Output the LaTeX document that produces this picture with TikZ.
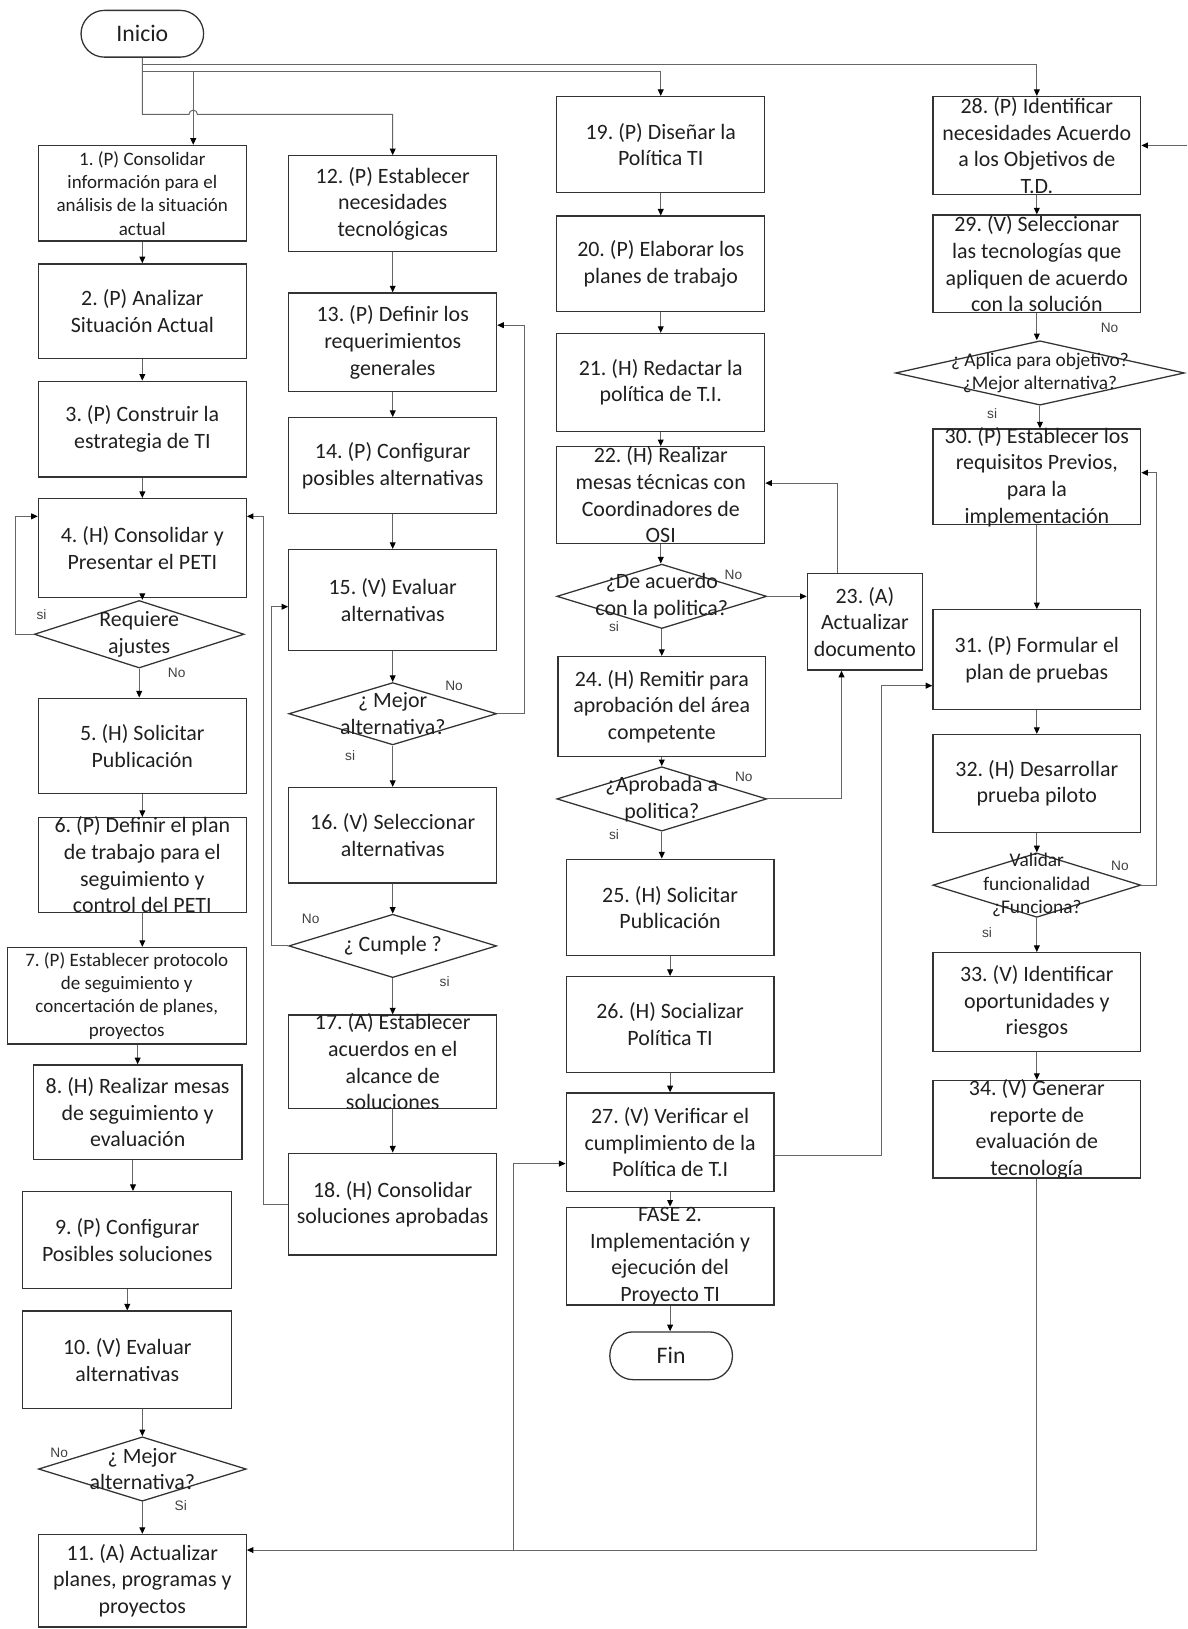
\documentclass[tikz,border=0pt]{standalone}
\usepackage{fontspec}
\setmainfont{Carlito}
\newfontfamily\labfont{Liberation Sans}
\usetikzlibrary{arrows.meta,shapes.geometric}
\frenchspacing

\newcommand\fsb{\fontsize{12}{14.6}\selectfont}
\newcommand\fss{\fontsize{10.4}{12.8}\selectfont}
\newcommand\fsd{\fontsize{10.6}{12.8}\selectfont}

\tikzset{
 boxs/.style={draw=black!80, line width=0.7pt, rectangle, inner sep=0pt},
 dms/.style={draw=black!80, line width=0.7pt, diamond, inner sep=0pt},
 txt/.style={align=center, inner sep=0pt, text=black!88},
 term/.style={draw=black!80, line width=0.7pt, rounded corners=4.5mm, inner sep=0pt, font=\fontsize{13}{15}\selectfont, text=black!88},
 conn/.style={draw=black!60, line width=0.55pt},
 arr/.style={conn, -{Triangle[length=3.6pt,width=3.2pt,black]}},
 lab/.style={font=\labfont\fontsize{7.5}{9}\selectfont, text=black!75, inner sep=0pt},
}

% box: [font]{name}{x1}{y1}{x2}{y2}{text}
\newcommand\BX[7][\fsb]{%
 \node[boxs, minimum width={(#5-#3)*0.2mm}, minimum height={(#6-#4)*0.2mm}] (#2) at ({(#3+#5)/2},{(#4+#6)/2}) {};
 \node[txt, font=#1] (#2t) at (#2.center) {#7};}
\newcommand\DM[7][\fsb]{%
 \node[dms, minimum width={(#5-#3)*0.2mm}, minimum height={(#6-#4)*0.2mm}] (#2) at ({(#3+#5)/2},{(#4+#6)/2}) {};
 \node[txt, font=#1] (#2t) at (#2.center) {#7};}
\newcommand\VA[2]{\draw[arr] (#1.south) -- (#1.south |- #2.north);}

\begin{document}
\begin{tikzpicture}[x=0.2mm,y=-0.2mm]
\useasboundingbox (0,0) rectangle (1143,1568);

% terminals
\node[term, minimum width=23.6mm, minimum height=9mm] (ini) at (137,32.5) {Inicio};
\node[term, minimum width=23.6mm, minimum height=9.2mm] (fin) at (646,1305) {Fin};

% column 1
\BX[\fss]{b1}{37}{140}{237}{232}{1. (P) Consolidar\\información para el\\análisis de la situación\\actual}
\BX{b2}{37}{254}{237}{345}{2. (P) Analizar\\Situación Actual}
\BX{b3}{37}{367}{237}{459}{3. (P) Construir la\\estrategia de TI}
\BX{b4}{37}{480}{237}{575}{4. (H) Consolidar y\\Presentar el PETI}
\DM{dq}{33}{578}{235}{643}{Requiere\\ajustes}
\BX{b5}{37}{672}{237}{764}{5. (H) Solicitar\\Publicación}
\BX{b6}{37}{787}{237}{878}{6. (P) Definir el plan\\de trabajo para el\\seguimiento y\\control del PETI}
\BX[\fss]{b7}{7}{912}{237}{1005}{7. (P) Establecer protocolo\\de seguimiento y\\concertación de planes,\\proyectos}
\BX{b8}{32}{1025}{233}{1116}{8. (H) Realizar mesas\\de seguimiento y\\evaluación}
\BX{b9}{22}{1147}{223}{1240}{9. (P) Configurar\\Posibles soluciones}
\BX{b10}{22}{1262}{223}{1356}{10. (V) Evaluar\\alternativas}
\DM{dm1}{37}{1383}{237}{1445}{¿ Mejor\\alternativa?}
\BX{b11}{37}{1477}{237}{1566}{11. (A) Actualizar\\planes, programas y\\proyectos}

% column 2
\BX{b12}{278}{150}{478}{242}{12. (P) Establecer\\necesidades\\tecnológicas}
\BX{b13}{278}{282}{478}{377}{13. (P) Definir los\\requerimientos\\generales}
\BX{b14}{278}{402}{478}{494}{14. (P) Configurar\\posibles alternativas}
\BX{b15}{278}{529}{478}{626}{15. (V) Evaluar\\alternativas}
\DM{dm2}{278}{657}{478}{717}{¿ Mejor\\alternativa?}
\BX{b16}{278}{758}{478}{850}{16. (V) Seleccionar\\alternativas}
\DM{dc}{278}{880}{478}{941}{¿ Cumple ?}
\BX{b17}{278}{977}{478}{1067}{17. (A) Establecer\\acuerdos en el\\alcance de\\soluciones}
\BX{b18}{278}{1110}{478}{1208}{18. (H) Consolidar\\soluciones aprobadas}

% column 3
\BX{b19}{536}{93}{736}{185}{19. (P) Diseñar la\\Política TI}
\BX{b20}{536}{208}{736}{300}{20. (P) Elaborar los\\planes de trabajo}
\BX{b21}{536}{321}{736}{415}{21. (H) Redactar la\\política de T.I.}
\BX{b22}{536}{430}{736}{523}{22. (H) Realizar\\mesas técnicas con\\Coordinadores de\\OSI}
\DM{da}{536}{543}{738}{605}{¿De acuerdo\\con la politica?}
\BX{b23}{777}{552}{888}{645}{23. (A)\\Actualizar\\documento}
\BX{b24}{537}{632}{737}{728}{24. (H) Remitir para\\aprobación del área\\competente}
\DM{dp}{536}{738}{738}{800}{¿Aprobada a\\politica?}
\BX{b25}{545}{827}{745}{920}{25. (H) Solicitar\\Publicación}
\BX{b26}{545}{940}{745}{1032}{26. (H) Socializar\\Política TI}
\BX{b27}{545}{1052}{745}{1147}{27. (V) Verificar el\\cumplimiento de la\\Política de T.I}
\BX{bf2}{545}{1162}{745}{1256}{FASE 2.\\Implementación y\\ejecución del\\Proyecto TI}

% column 4
\BX{b28}{898}{93}{1098}{187}{28. (P) Identificar\\necesidades Acuerdo\\a los Objetivos de\\T.D.}
\BX{b29}{898}{207}{1098}{301}{29. (V) Seleccionar\\las tecnologías que\\apliquen de acuerdo\\con la solución}
\DM[\fsd]{dap}{862}{328}{1140}{390}{¿ Aplica para objetivo?\\¿Mejor alternativa?}
\BX{b30}{898}{413}{1098}{505}{30. (P) Establecer los\\requisitos Previos,\\para la\\implementación}
\BX{b31}{898}{587}{1098}{683}{31. (P) Formular el\\plan de pruebas}
\BX{b32}{898}{707}{1098}{801}{32. (H) Desarrollar\\prueba piloto}
\DM[\fsd]{dv}{898}{821}{1098}{883}{Validar\\funcionalidad\\¿Funciona?}
\BX{b33}{898}{917}{1098}{1012}{33. (V) Identificar\\oportunidades y\\riesgos}
\BX{b34}{898}{1040}{1098}{1134}{34. (V) Generar\\reporte de\\evaluación de\\tecnología}

% connectors from Inicio
\coordinate (j1) at (137,62);
\coordinate (j2) at (137,69);
\coordinate (j3) at (186,69);
\draw[arr] (ini.south) |- (182,110) arc[start angle=180,end angle=0,radius=0.8mm] -| (b12.north);
\draw[conn] (ini.south) -- (j2);
\draw[arr] (j1) -| (b28.north);
\draw[arr] (j2) -| (b19.north);
\draw[arr] (j3) -- (j3 |- b1.north);

% column 1 flow
\VA{b1}{b2} \VA{b2}{b3} \VA{b3}{b4}
\draw[arr] (b4.south) -- (b4.south |- dq.north);
\VA{dq}{b5} \VA{b5}{b6} \VA{b6}{b7}
\draw[arr] (b8.north |- b7.south) -- (b8.north);
\draw[arr] (128,0 |- b8.south) -- (128,0 |- b9.north);
\VA{b9}{b10}
\draw[arr] (dm1.north |- b10.south) -- (dm1.north);
\VA{dm1}{b11}
\draw[arr] (dq.west) -- ++(-17,0) |- ([yshift=6.1mm]b4.west);
\draw[arr] (b18.west) -- ++(-24,0) |- ([yshift=6.1mm]b4.east);

% column 2 flow
\VA{b12}{b13} \VA{b13}{b14} \VA{b14}{b15} \VA{b15}{dm2} \VA{dm2}{b16} \VA{b16}{dc} \VA{dc}{b17} \VA{b17}{b18}
\draw[arr] (dc.west) -- ++(-16,0) |- ([yshift=-1.3mm]b15.west);
\draw[arr] (dm2.east) -- ++(26,0) |- ([yshift=3.3mm]b13.east);

% column 3 flow
\VA{b19}{b20} \VA{b20}{b21} \VA{b21}{b22} \VA{b22}{da} \VA{da}{b24} \VA{b24}{dp} \VA{dp}{b25}
\VA{b25}{b26} \VA{b26}{b27} \VA{b27}{bf2} \VA{bf2}{fin}
\draw[arr] (da.east) -- (da.east -| b23.west);
\draw[arr] ([xshift=-5.3mm]b23.north) |- ([yshift=2.3mm]b22.east);
\draw[arr] (dp.east) -| ([xshift=-4.5mm]b23.south);
\draw[arr] ([yshift=-2.5mm]b27.east) -- ++(103,0) |- ([yshift=-5mm]b31.west);

% column 4 flow
\VA{b28}{b29} \VA{b29}{dap} \VA{dap}{b30} \VA{b30}{b31} \VA{b31}{b32} \VA{b32}{dv} \VA{dv}{b33} \VA{b33}{b34}
\draw[arr] (dv.east) -- ++(15,0) |- ([yshift=0.8mm]b30.east);
\coordinate (edge) at (1143,140);
\draw[arr] (edge) -- (edge -| b28.east);

% bottom return line
\coordinate (k1) at (494,1492);
\draw[arr] (b34.south) |- ([yshift=5.9mm]b11.east);
\draw[arr] (k1) |- ([yshift=-4.1mm]b27.west);

% labels
\node[lab] (l1) at (40,592) {si};
\node[lab] (l2) at (170,648) {No};
\node[lab] (l3) at (57,1398) {No};
\node[lab] (l4) at (174,1449) {Si};
\node[lab] (l5) at (437,660) {No};
\node[lab] (l6) at (337,727) {si};
\node[lab] (l7) at (299,884) {No};
\node[lab] (l8) at (428,945) {si};
\node[lab] (l9) at (706,553) {No};
\node[lab] (l10) at (591,603) {si};
\node[lab] (l11) at (716,748) {No};
\node[lab] (l12) at (591,803) {si};
\node[lab] (l13) at (1068,316) {No};
\node[lab] (l14) at (955,398) {si};
\node[lab] (l15) at (1078,833) {No};
\node[lab] (l16) at (950,898) {si};
\end{tikzpicture}
\end{document}
